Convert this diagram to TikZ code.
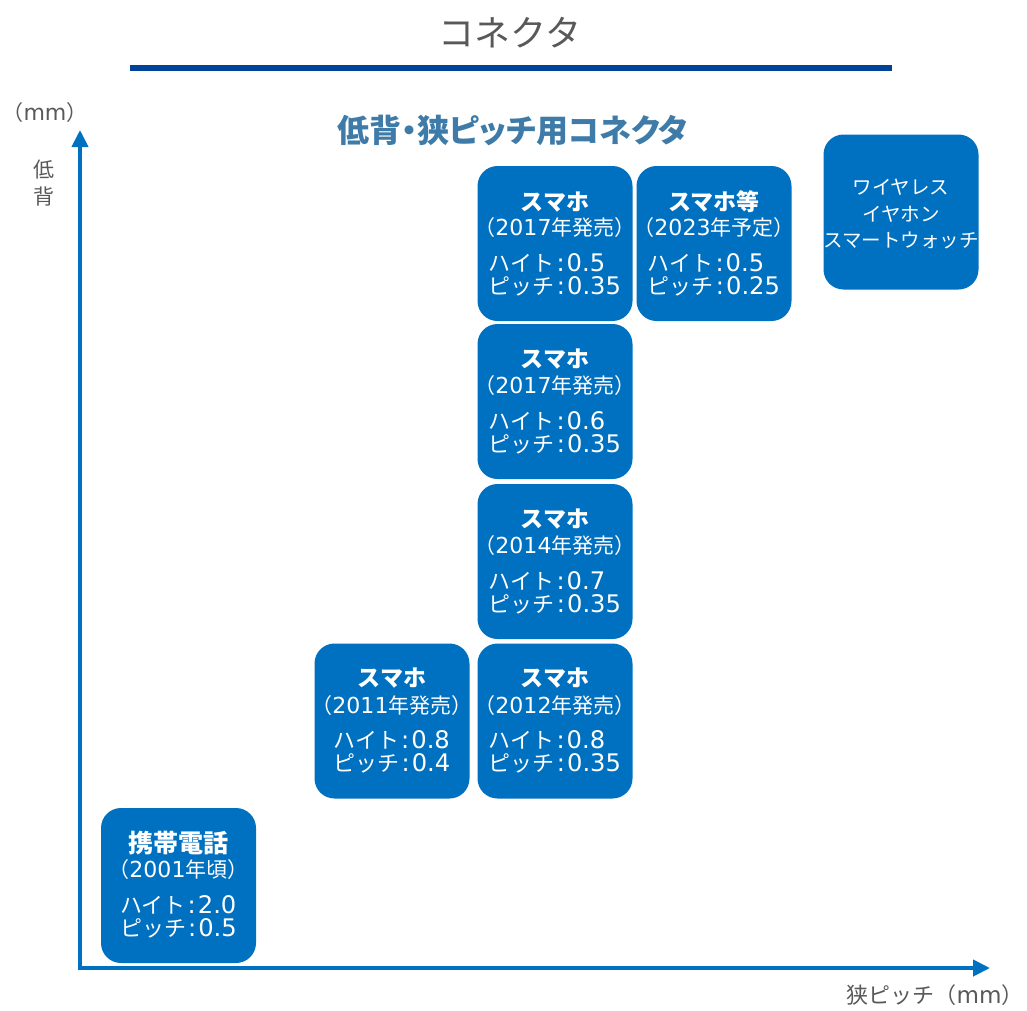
\documentclass[tikz,border=0pt]{standalone}
\usepackage{fontspec}
\setmainfont{Noto Sans CJK JP}
\newfontfamily\numfont{DejaVu Sans}[Scale=1.1]
\newfontfamily\numfonty{DejaVu Sans}[Scale=1.05]
\newfontfamily\palfont{Noto Sans CJK JP}[RawFeature=+palt]
\newcommand\nm[1]{{\numfont #1}}
\newcommand\nmy[1]{{\numfonty #1}}
\newcommand\cln{{\numfont\hspace{2pt}:\hspace{2pt}}}
\usetikzlibrary{arrows.meta,positioning}
\definecolor{boxblue}{HTML}{0070C0}
\definecolor{axisblue}{HTML}{0070C0}
\definecolor{rulecol}{HTML}{00449A}
\definecolor{greytxt}{HTML}{595959}
\definecolor{subcol}{HTML}{3E7BA8}
\tikzset{
  box/.style={fill=boxblue, draw=none, rounded corners=20pt, minimum width=155pt, minimum height=155pt, inner sep=0pt},
  boxtitle/.style={text=white, inner sep=0pt, font=\fontsize{23}{26}\selectfont\bfseries},
  boxyear/.style={text=white, inner sep=0pt, font=\fontsize{21}{23}\selectfont},
  boxdata/.style={text=white, inner sep=0pt, align=left, font=\fontsize{22}{23}\selectfont},
  boxplain/.style={text=white, inner sep=0pt, align=center, font=\fontsize{19.5}{26.5}\selectfont},
  axis/.style={draw=axisblue, line width=4pt, -{Triangle[length=17pt,width=16pt]}},
  greylabel/.style={text=greytxt, inner sep=0pt},
}
\begin{document}
\begin{tikzpicture}[x=1pt,y=-1pt]
\useasboundingbox (0,0) rectangle (1027,1010);
% title
\node[greylabel, font=\fontsize{36}{40}\selectfont] (title) at (510,33) {コネクタ};
\coordinate (ruleL) at (130,68);
\coordinate (ruleR) at (892,68);
\draw[rulecol, line width=6pt] (ruleL) -- (ruleR);
\node[text=subcol, inner sep=0pt, font=\fontsize{32}{34}\palfont\bfseries] (sub) at (512.5,130) {低背・狭ピッチ用コネクタ};
% axes
\coordinate (o) at (80,968);
\coordinate (ytip) at (80,130);
\coordinate (xtip) at (990,968);
\draw[axis] ([yshift=-2pt]o) -- (ytip);
\draw[axis] ([xshift=-2pt]o) -- (xtip);
\node[greylabel, font=\fontsize{21}{24}\selectfont] (ymm) at (45,113) {（\nmy{mm}）};
\node[greylabel, align=center, font=\fontsize{21}{27}\selectfont] (ylab) at (44,183) {低\\背};
\node[greylabel, font=\fontsize{22}{24}\selectfont] (xlab) at (935,995) {狭ピッチ（\nmy{mm}）};
% boxes
\node[box] (b1) at (178.5,885.5) {};
\node[box] (b2) at (392,721) {};
\node[box] (b3) at (555,721) {};
\node[box] (b4) at (555,561.5) {};
\node[box] (b5) at (555,401.5) {};
\node[box] (b6) at (555,243.5) {};
\node[box] (b7) at (714,243.5) {};
\node[box] (b8) at (901,212) {};
% box texts
\node[boxtitle, font=\fontsize{25}{28}\selectfont\bfseries] (t1) at ([yshift=-35pt]b1.north) {携帯電話};
\node[boxyear] (y1) at ([yshift=-62pt]b1.north) {（\nmy{2001}年頃）};
\node[boxdata] (d1) at ([yshift=-109pt]b1.north) {ハイト\cln\nm{2.0}\\ピッチ\cln\nm{0.5}};

\node[boxtitle] (t2) at ([yshift=-35pt]b2.north) {スマホ};
\node[boxyear] (y2) at ([yshift=-62pt]b2.north) {（\nmy{2011}年発売）};
\node[boxdata] (d2) at ([yshift=-109pt]b2.north) {ハイト\cln\nm{0.8}\\ピッチ\cln\nm{0.4}};

\node[boxtitle] (t3) at ([yshift=-35pt]b3.north) {スマホ};
\node[boxyear] (y3) at ([yshift=-62pt]b3.north) {（\nmy{2012}年発売）};
\node[boxdata] (d3) at ([yshift=-109pt]b3.north) {ハイト\cln\nm{0.8}\\ピッチ\cln\nm{0.35}};

\node[boxtitle] (t4) at ([yshift=-35pt]b4.north) {スマホ};
\node[boxyear] (y4) at ([yshift=-62pt]b4.north) {（\nmy{2014}年発売）};
\node[boxdata] (d4) at ([yshift=-109pt]b4.north) {ハイト\cln\nm{0.7}\\ピッチ\cln\nm{0.35}};

\node[boxtitle] (t5) at ([yshift=-35pt]b5.north) {スマホ};
\node[boxyear] (y5) at ([yshift=-62pt]b5.north) {（\nmy{2017}年発売）};
\node[boxdata] (d5) at ([yshift=-109pt]b5.north) {ハイト\cln\nm{0.6}\\ピッチ\cln\nm{0.35}};

\node[boxtitle] (t6) at ([yshift=-36pt]b6.north) {スマホ};
\node[boxyear] (y6) at ([yshift=-62pt]b6.north) {（\nmy{2017}年発売）};
\node[boxdata] (d6) at ([yshift=-109pt]b6.north) {ハイト\cln\nm{0.5}\\ピッチ\cln\nm{0.35}};

\node[boxtitle] (t7) at ([yshift=-36pt]b7.north) {スマホ等};
\node[boxyear] (y7) at ([yshift=-62pt]b7.north) {（\nmy{2023}年予定）};
\node[boxdata] (d7) at ([yshift=-109pt]b7.north) {ハイト\cln\nm{0.5}\\ピッチ\cln\nm{0.25}};

\node[boxplain] (w8) at ([yshift=-2pt]b8.center) {ワイヤレス\\イヤホン\\スマートウォッチ};
\end{tikzpicture}
\end{document}
